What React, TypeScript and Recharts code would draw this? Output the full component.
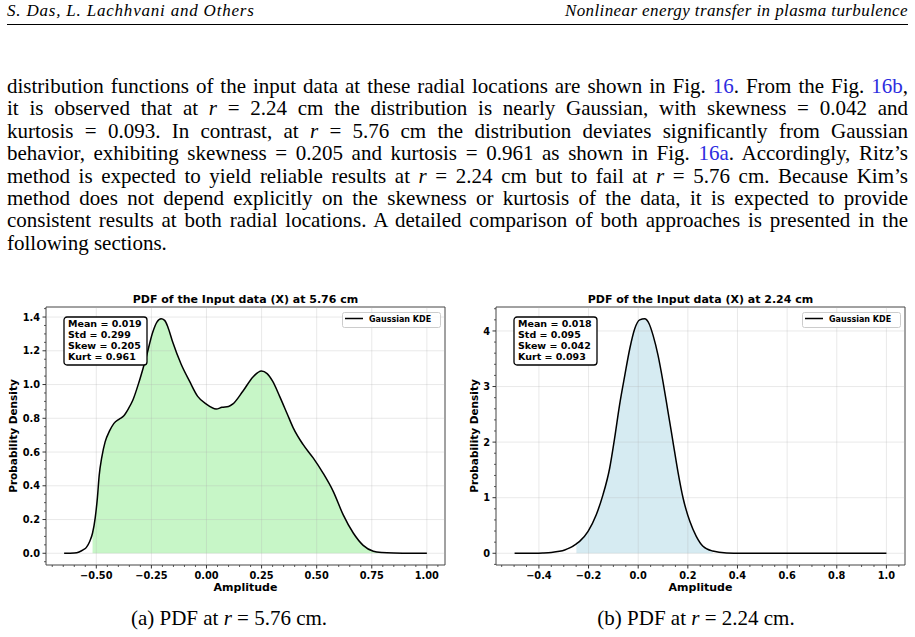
import React from 'react';
import { ComposedChart, Area, Line, XAxis, YAxis, ReferenceLine, ReferenceArea, Legend } from 'recharts';

// panel (a): r = 5.76 cm, Gaussian KDE
const leftAmplitude = [
  -0.646, -0.6, -0.578, -0.56, -0.545, -0.53, -0.517, -0.505, -0.495, -0.487, -0.475, -0.46, -0.44, -0.42,
  -0.396, -0.375, -0.355, -0.335, -0.305, -0.274, -0.244, -0.225, -0.206, -0.19, -0.175, -0.153, -0.115,
  -0.077, -0.04, -0.002, 0.044, 0.07, 0.1, 0.12, 0.165, 0.211, 0.249, 0.275, 0.3, 0.332, 0.365, 0.393,
  0.438, 0.484, 0.529, 0.575, 0.62, 0.666, 0.711, 0.757, 0.795, 0.85, 0.93, 1.0,
];
const leftDensity = [
  0.0, 0.002, 0.008, 0.02, 0.035, 0.07, 0.12, 0.21, 0.33, 0.46, 0.57, 0.66, 0.725, 0.77,
  0.795, 0.815, 0.855, 0.905, 1.02, 1.16, 1.31, 1.37, 1.39, 1.38, 1.34, 1.25, 1.12,
  1.02, 0.93, 0.885, 0.855, 0.865, 0.87, 0.885, 0.96, 1.045, 1.08, 1.065, 1.02, 0.93, 0.83, 0.745,
  0.645, 0.565, 0.475, 0.367, 0.229, 0.12, 0.047, 0.012, 0.004, 0.001, 0.0, 0.0,
];
const leftFillRange = [-0.517, 0.795];
const leftStats = ['Mean = 0.019', 'Std = 0.299', 'Skew = 0.205', 'Kurt = 0.961'];
const leftXTicks = [-0.5, -0.25, 0, 0.25, 0.5, 0.75, 1.0];
const leftXTickLabels = ['\u22120.50', '\u22120.25', '0.00', '0.25', '0.50', '0.75', '1.00'];
const leftYTicks = [0, 0.2, 0.4, 0.6, 0.8, 1.0, 1.2, 1.4];
const leftYTickLabels = ['0.0', '0.2', '0.4', '0.6', '0.8', '1.0', '1.2', '1.4'];

// panel (b): r = 2.24 cm
const rightAmplitude = [
  -0.498, -0.42, -0.384, -0.35, -0.317, -0.296, -0.276, -0.249, -0.236, -0.202, -0.169, -0.142, -0.115,
  -0.095, -0.075, -0.054, -0.034, -0.014, 0.006, 0.026, 0.044, 0.06, 0.08, 0.1, 0.12, 0.14, 0.16, 0.181,
  0.208, 0.234, 0.261, 0.3, 0.356, 0.42, 0.5, 1.0,
];
const rightDensity = [
  0.0, 0.002, 0.006, 0.015, 0.036, 0.06, 0.096, 0.17, 0.215, 0.395, 0.694, 1.05, 1.53,
  2.07, 2.67, 3.2, 3.68, 4.04, 4.2, 4.22, 4.13, 3.92, 3.56, 3.085, 2.55, 2.01, 1.47, 0.99,
  0.574, 0.305, 0.126, 0.04, 0.006, 0.001, 0.0, 0.0,
];
const rightFillRange = [-0.249, 0.3];
const rightStats = ['Mean = 0.018', 'Std = 0.095', 'Skew = 0.042', 'Kurt = 0.093'];
const rightXTicks = [-0.4, -0.2, 0, 0.2, 0.4, 0.6, 0.8, 1.0];
const rightXTickLabels = ['\u22120.4', '\u22120.2', '0.0', '0.2', '0.4', '0.6', '0.8', '1.0'];
const rightYTicks = [0, 1, 2, 3, 4];
const rightYTickLabels = ['0', '1', '2', '3', '4'];

const SANS = '"DejaVu Sans", sans-serif';
const SERIF = '"Liberation Serif", "Times New Roman", serif';
const REF = '#2d2de0';
const TICK = '#333';

function padded(lo: number, hi: number): [number, number] {
  const m = (hi - lo) * 0.05;
  return [lo - m, hi + m];
}

function minorTicks(domain: [number, number], step: number, majors: number[]) {
  const out: number[] = [];
  const start = Math.ceil(domain[0] / step - 1e-9);
  const end = Math.floor(domain[1] / step + 1e-9);
  for (let k = start; k <= end; k++) {
    const v = Math.round(k * step * 1e6) / 1e6;
    if (!majors.some((m) => Math.abs(m - v) < 1e-6)) out.push(v);
  }
  return out;
}

function findMajor(majors: number[], v: number) {
  return majors.findIndex((m) => Math.abs(m - v) < 1e-6);
}

function XTick(props: any) {
  const { x, y, payload, majors, labels } = props;
  const i = findMajor(majors, payload.value);
  if (i < 0) return <line x1={x} x2={x} y1={y} y2={y + 2} stroke={TICK} strokeWidth={0.8} />;
  return (
    <g>
      <line x1={x} x2={x} y1={y} y2={y + 3.5} stroke={TICK} strokeWidth={1} />
      <text x={x} y={y + 13.5} textAnchor="middle" fontFamily={SANS} fontWeight="bold" fontSize={9.8} fill="#000">
        {labels[i]}
      </text>
    </g>
  );
}

function YTick(props: any) {
  const { x, y, payload, majors, labels } = props;
  const i = findMajor(majors, payload.value);
  if (i < 0) return <line x1={x - 2} x2={x} y1={y} y2={y} stroke={TICK} strokeWidth={0.8} />;
  return (
    <g>
      <line x1={x - 3.5} x2={x} y1={y} y2={y} stroke={TICK} strokeWidth={1} />
      <text x={x - 6} y={y + 3.6} textAnchor="end" fontFamily={SANS} fontWeight="bold" fontSize={9.8} fill="#000">
        {labels[i]}
      </text>
    </g>
  );
}

function LegendBox() {
  return (
    <svg width={99} height={16} style={{ display: 'block' }}>
      <rect x={0.5} y={0.5} width={98} height={15} rx={2} fill="#fff" fillOpacity={0.8} stroke="#ccc" strokeWidth={1} />
      <line x1={3} x2={21} y1={6.5} y2={6.5} stroke="#000" strokeWidth={1.5} />
      <text x={27} y={9.8} fontFamily={SANS} fontWeight="bold" fontSize={8} fill="#000">
        Gaussian KDE
      </text>
    </svg>
  );
}

type PanelProps = {
  left: number;
  top: number;
  width: number;
  height: number;
  margin: { top: number; right: number; bottom: number; left: number };
  yAxisWidth: number;
  amplitude: number[];
  density: number[];
  fillRange: number[];
  fillColor: string;
  xTicks: number[];
  xTickLabels: string[];
  xMinorStep: number;
  yTicks: number[];
  yTickLabels: string[];
  yMinorStep: number;
  title: string;
  stats: string[];
  statsX: number;
  legendX: number;
  yLabelX: number;
};

function PdfPanel(p: PanelProps) {
  const data = p.amplitude.map((a, i) => ({
    amp: a,
    dens: p.density[i],
    fill: a >= p.fillRange[0] - 1e-9 && a <= p.fillRange[1] + 1e-9 ? p.density[i] : null,
  }));
  const xDomain = padded(Math.min(...p.amplitude), Math.max(...p.amplitude));
  const yDomain = padded(0, Math.max(...p.density));
  const xAll = [...p.xTicks, ...minorTicks(xDomain, p.xMinorStep, p.xTicks)];
  const yAll = [...p.yTicks, ...minorTicks(yDomain, p.yMinorStep, p.yTicks)];

  const plotLeft = p.margin.left + p.yAxisWidth;
  const plotRight = p.width - p.margin.right;
  const plotTop = p.margin.top;
  const plotBottom = p.height - p.margin.bottom - 30;
  const cx = (plotLeft + plotRight) / 2;
  const cy = (plotTop + plotBottom) / 2;

  return (
    <div style={{ position: 'absolute', left: p.left, top: p.top, width: p.width, height: p.height }}>
      <ComposedChart width={p.width} height={p.height} data={data} margin={p.margin}>
        <XAxis
          type="number"
          dataKey="amp"
          domain={xDomain}
          allowDataOverflow
          ticks={xAll}
          interval={0}
          tickSize={0}
          tickMargin={0}
          tickLine={false}
          axisLine={false}
          height={30}
          tick={(t: any) => <XTick {...t} majors={p.xTicks} labels={p.xTickLabels} />}
        />
        <YAxis
          type="number"
          domain={yDomain}
          allowDataOverflow
          ticks={yAll}
          interval={0}
          tickSize={0}
          tickMargin={0}
          tickLine={false}
          axisLine={false}
          width={p.yAxisWidth}
          tick={(t: any) => <YTick {...t} majors={p.yTicks} labels={p.yTickLabels} />}
        />
        <Area
          dataKey="fill"
          type="monotone"
          fill={p.fillColor}
          fillOpacity={0.5}
          stroke="none"
          baseValue={0}
          connectNulls={false}
          isAnimationActive={false}
          legendType="none"
        />
        {p.xTicks.map((v) => (
          <ReferenceLine key={'gx' + v} x={v} stroke="#b0b0b0" strokeOpacity={0.35} strokeWidth={0.8} />
        ))}
        {p.yTicks.map((v) => (
          <ReferenceLine key={'gy' + v} y={v} stroke="#b0b0b0" strokeOpacity={0.35} strokeWidth={0.8} />
        ))}
        <Line
          dataKey="dens"
          name="Gaussian KDE"
          type="monotone"
          stroke="#000"
          strokeWidth={1.5}
          dot={false}
          activeDot={false}
          isAnimationActive={false}
        />
        <ReferenceArea
          x1={xDomain[0]}
          x2={xDomain[1]}
          y1={yDomain[0]}
          y2={yDomain[1]}
          fill="none"
          fillOpacity={0}
          stroke="#444"
          strokeWidth={1}
        />
        <Legend
          layout="horizontal"
          verticalAlign="middle"
          align="center"
          wrapperStyle={{ left: p.legendX, top: 27, width: 99, height: 16 }}
          content={() => <LegendBox />}
        />
      </ComposedChart>
      <svg
        width={p.width}
        height={p.height}
        style={{ position: 'absolute', left: 0, top: 0, pointerEvents: 'none' }}
      >
        <text x={cx} y={18.3} textAnchor="middle" fontFamily={SANS} fontWeight="bold" fontSize={11} fill="#000">
          {p.title}
        </text>
        <text x={cx} y={plotBottom + 25.5} textAnchor="middle" fontFamily={SANS} fontWeight="bold" fontSize={11} fill="#000">
          Amplitude
        </text>
        <text
          x={p.yLabelX}
          y={cy}
          transform={`rotate(-90, ${p.yLabelX}, ${cy})`}
          textAnchor="middle"
          fontFamily={SANS}
          fontWeight="bold"
          fontSize={10.5}
          fill="#000"
        >
          Probability Density
        </text>
        <g transform={`translate(${p.statsX}, ${plotTop + 10})`}>
          <rect x={0} y={0} width={83} height={48} rx={3} fill="#fff" stroke="#000" strokeWidth={1.3} />
          {p.stats.map((s, i) => (
            <text key={s} x={4} y={10.4 + i * 10.9} fontFamily={SANS} fontWeight="bold" fontSize={9.5} fill="#000">
              {s}
            </text>
          ))}
        </g>
      </svg>
    </div>
  );
}

const lineStyle: React.CSSProperties = {
  position: 'absolute',
  left: 7,
  width: 901,
  height: 22,
  lineHeight: '22px',
  fontSize: 21,
  textAlign: 'justify',
  textAlignLast: 'justify',
  whiteSpace: 'nowrap',
};

export default function App() {
  const ref = (s: string) => <span style={{ color: REF }}>{s}</span>;
  const r = <i>r</i>;
  const paragraph: React.ReactNode[] = [
    <>distribution functions of the input data at these radial locations are shown in Fig. {ref('16')}. From the Fig. {ref('16b')},</>,
    <>it is observed that at {r} = 2.24 cm the distribution is nearly Gaussian, with skewness = 0.042 and</>,
    <>kurtosis = 0.093. In contrast, at {r} = 5.76 cm the distribution deviates significantly from Gaussian</>,
    <>behavior, exhibiting skewness = 0.205 and kurtosis = 0.961 as shown in Fig. {ref('16a')}. Accordingly, Ritz’s</>,
    <>method is expected to yield reliable results at {r} = 2.24 cm but to fail at {r} = 5.76 cm. Because Kim’s</>,
    <>method does not depend explicitly on the skewness or kurtosis of the data, it is expected to provide</>,
    <>consistent results at both radial locations. A detailed comparison of both approaches is presented in the</>,
    <>following sections.</>,
  ];

  return (
    <div
      style={{
        position: 'absolute',
        left: 0,
        top: 0,
        width: 915,
        height: 637,
        background: '#fff',
        overflow: 'hidden',
        fontFamily: SERIF,
        color: '#000',
      }}
    >
      <div style={{ position: 'absolute', left: 7, top: 1, fontSize: 17, letterSpacing: 0.8, fontStyle: 'italic', whiteSpace: 'nowrap' }}>
        S. Das, L. Lachhvani and Others
      </div>
      <div style={{ position: 'absolute', right: 7, top: 1, fontSize: 17, letterSpacing: 0.4, fontStyle: 'italic', whiteSpace: 'nowrap' }}>
        Nonlinear energy transfer in plasma turbulence
      </div>
      <div style={{ position: 'absolute', left: 7, top: 24, width: 901, height: 1, background: '#000' }} />

      {paragraph.map((ln, i) => (
        <div
          key={i}
          style={{
            ...lineStyle,
            top: 75 + i * 22.4,
            textAlignLast: i === paragraph.length - 1 ? 'left' : 'justify',
          }}
        >
          {ln}
        </div>
      ))}

      <PdfPanel
        left={0}
        top={285}
        width={450}
        height={310}
        margin={{ top: 22, right: 5, bottom: 0, left: 6 }}
        yAxisWidth={40}
        amplitude={leftAmplitude}
        density={leftDensity}
        fillRange={leftFillRange}
        fillColor="#90ee90"
        xTicks={leftXTicks}
        xTickLabels={leftXTickLabels}
        xMinorStep={0.05}
        yTicks={leftYTicks}
        yTickLabels={leftYTickLabels}
        yMinorStep={0.05}
        title="PDF of the Input data (X) at 5.76 cm"
        stats={leftStats}
        statsX={64}
        legendX={342}
        yLabelX={17}
      />
      <PdfPanel
        left={460}
        top={285}
        width={455}
        height={310}
        margin={{ top: 22, right: 10, bottom: 0, left: 6 }}
        yAxisWidth={30}
        amplitude={rightAmplitude}
        density={rightDensity}
        fillRange={rightFillRange}
        fillColor="#add8e6"
        xTicks={rightXTicks}
        xTickLabels={rightXTickLabels}
        xMinorStep={0.05}
        yTicks={rightYTicks}
        yTickLabels={rightYTickLabels}
        yMinorStep={0.2}
        title="PDF of the Input data (X) at 2.24 cm"
        stats={rightStats}
        statsX={54}
        legendX={342}
        yLabelX={18}
      />

      <div style={{ position: 'absolute', left: 109, width: 240, top: 606, fontSize: 21, textAlign: 'center', whiteSpace: 'nowrap' }}>
        (a) PDF at {r} = 5.76 cm.
      </div>
      <div style={{ position: 'absolute', left: 576, width: 240, top: 606, fontSize: 21, textAlign: 'center', whiteSpace: 'nowrap' }}>
        (b) PDF at {r} = 2.24 cm.
      </div>
    </div>
  );
}
